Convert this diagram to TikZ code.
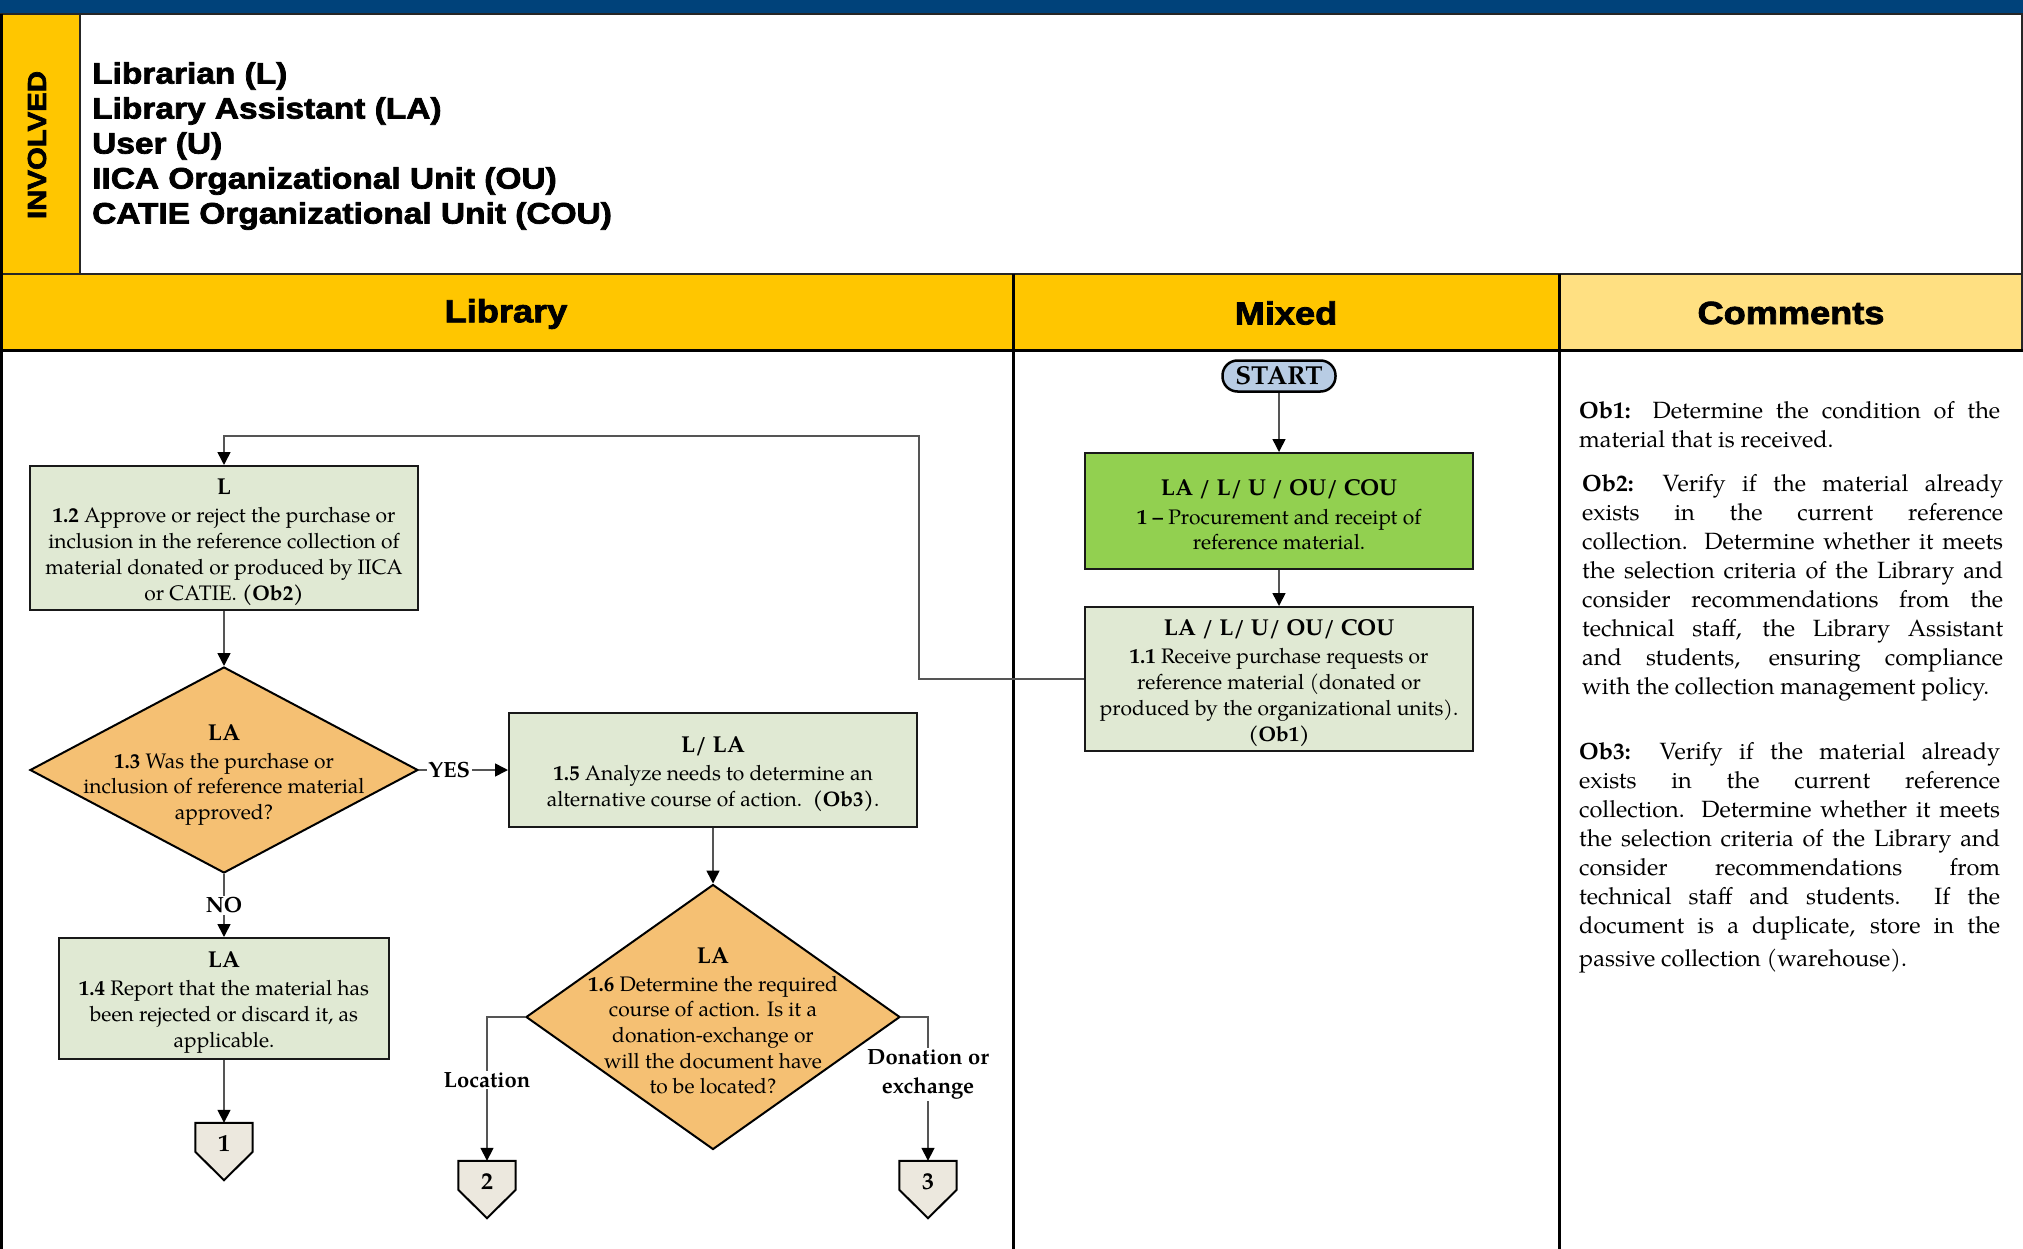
\documentclass[tikz,border=0pt]{standalone}
\usepackage{fontspec}
\setmainfont{TeX Gyre Pagella}
\newfontfamily\heavyfont[FakeStretch=1.13,FakeBold=2.5]{Liberation Sans Bold}
\usetikzlibrary{arrows.meta,shapes.geometric,calc}

\definecolor{topblue}{RGB}{0,66,122}
\definecolor{hdryellow}{RGB}{255,198,0}
\definecolor{cmtyellow}{RGB}{255,224,130}
\definecolor{stepgreen}{RGB}{146,208,80}
\definecolor{palegreen}{RGB}{224,233,211}
\definecolor{decorange}{RGB}{245,192,115}
\definecolor{startblue}{RGB}{184,204,228}
\definecolor{offpagefill}{RGB}{236,232,222}
\definecolor{linkgray}{RGB}{85,85,85}

% one justified comment line, and the closing line of a comment
\newcommand\jline[1]{\hbox to 421pt{#1}}
\newcommand\eline[1]{\hbox{#1}}
% bold role line heading a step; the strut leaves a little air above it
\newcommand\hd[1]{{\fontsize{23pt}{26pt}\selectfont\bfseries\rule{0pt}{24pt}#1}}

\tikzset{
  frame/.style={line width=2pt, draw=black!85},
  heavyrule/.style={line width=3pt, draw=black},
  colhead/.style={font=\heavyfont\fontsize{32pt}{32pt}\selectfont, inner sep=0pt},
  stepbox/.style={draw=black!90, line width=2pt, fill=palegreen, align=center,
    inner sep=0pt, font=\fontsize{21pt}{25.7pt}\selectfont},
  mainbox/.style={stepbox, fill=stepgreen},
  decision/.style={diamond, draw=black, line width=2pt, fill=decorange, inner sep=0pt},
  dtext/.style={align=center, inner sep=0pt, font=\fontsize{21pt}{25.7pt}\selectfont},
  startbox/.style={draw=black, line width=2.5pt, fill=startblue, rounded corners=15pt,
    minimum width=113pt, minimum height=31pt, inner sep=0pt,
    font=\fontsize{26pt}{26pt}\selectfont\bfseries},
  anchorbox/.style={minimum width=57pt, minimum height=57pt, inner sep=0pt},
  offpage/.style={draw=black, line width=2pt, fill=offpagefill},
  pagenum/.style={inner sep=0pt, font=\fontsize{24pt}{24pt}\selectfont\bfseries},
  flow/.style={draw=linkgray, line width=1.6pt,
    -{Triangle[width=13pt,length=13pt,color=black]}},
  lbl/.style={fill=white, inner sep=1.5pt, align=center,
    font=\fontsize{22pt}{29pt}\selectfont\bfseries},
  note/.style={anchor=north west, inner sep=0pt,
    font=\fontsize{23.5pt}{29pt}\selectfont},
}

\begin{document}
\begin{tikzpicture}[x=1pt,y=-1pt]
\useasboundingbox (0,0) rectangle (2023,1249);

% ---- bands and rules of the form ----
\fill[topblue] (0,0) rectangle (2023,14);
\fill[hdryellow] (0,14) rectangle (80,274);
\fill[hdryellow] (0,274) rectangle (1559,350);
\fill[cmtyellow] (1559,274) rectangle (2023,350);
\draw[frame] (0,14) -- (2023,14);
\draw[frame] (80,14) -- (80,274);
\draw[frame] (0,274) -- (2023,274);
\draw[frame] (2022,14) -- (2022,350);
\draw[heavyrule] (0,350) -- (2023,350);
\draw[heavyrule] (1013,274) -- (1013,1249);
\draw[heavyrule] (1559,274) -- (1559,1249);
\draw[heavyrule] (1.5,14) -- (1.5,1249);

% ---- roles ----
\node[rotate=90, inner sep=0pt, font=\heavyfont\fontsize{26pt}{26pt}\selectfont]
  (involved) at (37,145) {INVOLVED};
\node[anchor=west, align=left, inner sep=0pt,
  font=\heavyfont\fontsize{29.6pt}{35pt}\selectfont] (roles) at (92,146)
  {Librarian (L)\\Library Assistant (LA)\\User (U)\\IICA Organizational Unit (OU)\\CATIE Organizational Unit (COU)};

% ---- column headings ----
\node[colhead] (hlib) at (506,314) {Library};
\node[colhead] (hmix) at (1286,313) {Mixed};
\node[colhead] (hcom) at (1791,313) {Comments};

% ---- mixed lane ----
\node[startbox] (start) at (1279,376) {START};
\node[mainbox, minimum width=388pt, minimum height=116pt] (b1) at (1279,511)
  {\hd{LA / L/ U / OU/ COU}\\[2.5pt]\textbf{1 –} Procurement and receipt of\\reference material.};
\node[stepbox, minimum width=388pt, minimum height=144pt] (b11) at (1279,679)
  {\hd{LA / L/ U/ OU/ COU}\\[2.5pt]\textbf{1.1} Receive purchase requests or\\reference material (donated or\\produced by the organizational units).\\\textbf{(Ob1)}};

% ---- library lane ----
\node[stepbox, minimum width=388pt, minimum height=144pt] (b12) at (224,538)
  {\hd{L}\\[2.5pt]\textbf{1.2} Approve or reject the purchase or\\inclusion in the reference collection of\\material donated or produced by IICA\\or CATIE. \textbf{(Ob2)}};
\node[decision, minimum width=388pt, minimum height=206pt] (d13) at (224,770) {};
\node[dtext] (d13t) at (224,771)
  {\hd{LA}\\[2pt]\textbf{1.3} Was the purchase or\\inclusion of reference material\\approved?};
\node[stepbox, minimum width=330pt, minimum height=121pt] (b14) at (224,998.5)
  {\hd{LA}\\[2.5pt]\textbf{1.4} Report that the material has\\been rejected or discard it, as\\applicable.};
\node[stepbox, minimum width=408pt, minimum height=114pt] (b15) at (713,770)
  {\hd{L/ LA}\\[3pt]\textbf{1.5} Analyze needs to determine an\\alternative course of action.\ \ \textbf{(Ob3)}.};
\node[decision, minimum width=374pt, minimum height=265pt] (d16) at (713,1017) {};
\node[dtext] (d16t) at (713,1017)
  {\hd{LA}\\[1.5pt]\textbf{1.6} Determine the required\\course of action. Is it a\\donation-exchange or\\will the document have\\to be located?};

% ---- off-page connectors ----
\node[anchorbox] (p1) at (224,1151.5) {};
\node[anchorbox] (p2) at (487,1189.5) {};
\node[anchorbox] (p3) at (928,1189.5) {};
\foreach \p in {p1,p2,p3}{
  \draw[offpage] (\p.north west) -- (\p.north east) -- ($(\p.north east)+(0,29)$)
    -- (\p.south) -- ($(\p.north west)+(0,29)$) -- cycle;
}
\node[pagenum] (n1) at ($(p1.north)+(0,21)$) {1};
\node[pagenum] (n2) at ($(p2.north)+(0,21)$) {2};
\node[pagenum] (n3) at ($(p3.north)+(0,21)$) {3};

% ---- connectors ----
\coordinate (bend) at (919,436);
\draw[flow] (start) -- (b1);
\draw[flow] (b1) -- (b11);
\draw[flow] (b11.west) -| (bend) -| (b12.north);
\draw[flow] (b12) -- (d13);
\draw[flow] (d13.east) -- node[lbl, pos=0.34] {YES} (b15.west);
\draw[flow] (d13.south) -- node[lbl, pos=0.5] {NO} (b14.north);
\draw[flow] (b14) -- (p1.north);
\draw[flow] (b15) -- (d16.north);
\draw[flow] (d16.west) -| node[lbl, pos=0.72] {Location} (p2.north);
\draw[flow] (d16.east) -| node[lbl, pos=0.70] {Donation or\\exchange} (p3.north);

% ---- comments ----
\node[note] (ob1) at (1579,401) {\vbox{%
  \jline{\textbf{Ob1:} Determine the condition of the}
  \eline{material that is received.}}};
\node[note] (ob2) at (1582,474) {\vbox{%
  \jline{\textbf{Ob2:} Verify if the material already}
  \jline{exists in the current reference}
  \jline{collection. Determine whether it meets}
  \jline{the selection criteria of the Library and}
  \jline{consider recommendations from the}
  \jline{technical staff, the Library Assistant}
  \jline{and students, ensuring compliance}
  \eline{with the collection management policy.}}};
\node[note] (ob3) at (1579,742) {\vbox{%
  \jline{\textbf{Ob3:} Verify if the material already}
  \jline{exists in the current reference}
  \jline{collection. Determine whether it meets}
  \jline{the selection criteria of the Library and}
  \jline{consider recommendations from}
  \jline{technical staff and students.\ \ If the}
  \jline{document is a duplicate, store in the}
  \vskip 4pt
  \eline{passive collection (warehouse).}}};
\end{tikzpicture}
\end{document}
